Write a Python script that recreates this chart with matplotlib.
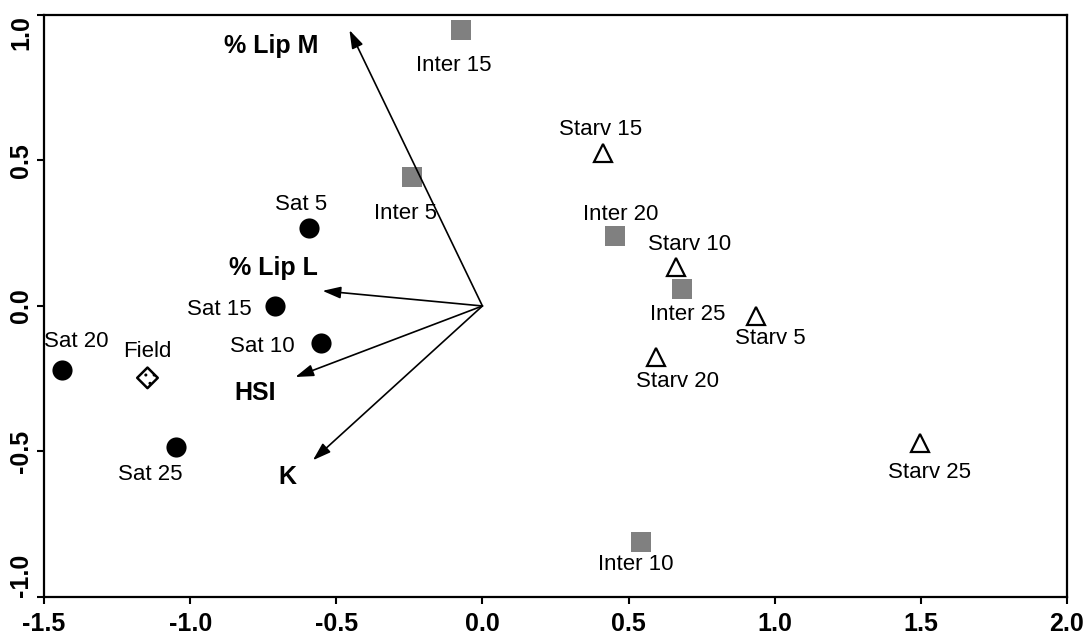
import numpy as np
import matplotlib
matplotlib.use("Agg")
import matplotlib.pyplot as plt

plt.rcParams['font.family'] = ['Liberation Sans', 'DejaVu Sans']

# sample scores on the first two axes
sat_names = ["Sat 5", "Sat 10", "Sat 15", "Sat 20", "Sat 25"]
sat_x = [-0.595, -0.554, -0.708, -1.44, -1.047]
sat_y = [0.268, -0.127, 0.0, -0.22, -0.485]

inter_names = ["Inter 5", "Inter 10", "Inter 15", "Inter 20", "Inter 25"]
inter_x = [-0.24, 0.544, -0.075, 0.452, 0.684]
inter_y = [0.443, -0.81, 0.948, 0.24, 0.058]

starv_names = ["Starv 5", "Starv 10", "Starv 15", "Starv 20", "Starv 25"]
starv_x = [0.937, 0.664, 0.414, 0.595, 1.498]
starv_y = [-0.034, 0.134, 0.526, -0.175, -0.471]

field_name = "Field"
field_x = [-1.146]
field_y = [-0.247]

# variable loadings (arrows)
var_names = ["% Lip M", "% Lip L", "HSI", "K"]
var_x = [-0.455, -0.547, -0.64, -0.58]
var_y = [0.948, 0.052, -0.244, -0.53]

# label offsets in pixels (dx right, dy down) and alignment
lab_off = {
    "Sat 5": (-7, 23, 'center'), "Sat 10": (-26, -4, 'right'),
    "Sat 15": (-24, -4, 'right'), "Sat 20": (15, 29, 'center'),
    "Sat 25": (-26, -27, 'center'),
    "Inter 5": (-7, -36, 'center'), "Inter 10": (-6, -23, 'center'),
    "Inter 15": (-7, -35, 'center'), "Inter 20": (6, 22, 'center'),
    "Inter 25": (5, -25, 'center'),
    "Starv 5": (14, -23, 'center'), "Starv 10": (13, 22, 'center'),
    "Starv 15": (-3, 23, 'center'), "Starv 20": (21, -25, 'center'),
    "Starv 25": (9, -29, 'center'),
    "Field": (0, 26, 'center'),
}
var_off = {"% Lip M": (-78, -16), "% Lip L": (-49, 23), "HSI": (-40, -16), "K": (-26, -17)}

fig = plt.figure(figsize=(10.84, 6.37), dpi=100)
ax = fig.add_axes([0.0406, 0.0628, 0.9437, 0.9137])

ax.plot(inter_x, inter_y, 's', color='#808080', ms=15, mew=0, clip_on=False, zorder=3)
ax.plot(sat_x, sat_y, 'o', color='black', ms=14.5, mew=0, clip_on=False, zorder=3)
ax.plot(starv_x, starv_y, '^', mfc='white', mec='black', ms=12.5, mew=1.6, clip_on=False, zorder=3)
ax.scatter(field_x, field_y, marker='D', s=110, facecolor='white', edgecolor='black',
           linewidth=1.8, hatch='..', zorder=3)

for names, xs, ys in [(sat_names, sat_x, sat_y), (inter_names, inter_x, inter_y),
                      (starv_names, starv_x, starv_y), ([field_name], field_x, field_y)]:
    for n, x, y in zip(names, xs, ys):
        dx, dy, ha = lab_off[n]
        ax.annotate(n, (x, y), xytext=(dx, dy), textcoords='offset pixels',
                    ha=ha, va='center', fontsize=16)

for n, x, y in zip(var_names, var_x, var_y):
    ax.annotate("", xy=(x, y), xytext=(0, 0),
                arrowprops=dict(arrowstyle='-|>,head_length=1.1,head_width=0.36',
                                color='black', lw=1.2, shrinkA=0, shrinkB=0))
    dx, dy = var_off[n]
    ax.annotate(n, (x, y), xytext=(dx, dy), textcoords='offset pixels',
                ha='center', va='center', fontsize=18, fontweight='bold')

ax.set_xlim(-1.5, 2.0)
ax.set_ylim(-1.0, 1.0)
ax.set_xticks(np.arange(-1.5, 2.01, 0.5))
ax.set_yticks(np.arange(-1.0, 1.01, 0.5))
ax.set_xticklabels([f"{v:.1f}" for v in np.arange(-1.5, 2.01, 0.5)], fontweight='bold', fontsize=18)
ax.set_yticklabels([f"{v:.1f}" for v in np.arange(-1.0, 1.01, 0.5)], fontweight='bold', fontsize=18,
                   rotation=90, va='center')
ax.tick_params(direction='out', length=5, width=1.5, pad=3)
ax.tick_params(axis='x', pad=6)
for s in ax.spines.values():
    s.set_linewidth(1.6)

ylabs = ax.get_yticklabels()
ylabs[0].set_va('bottom')
ylabs[-1].set_va('top')

fig.savefig("out.png", dpi=100)
